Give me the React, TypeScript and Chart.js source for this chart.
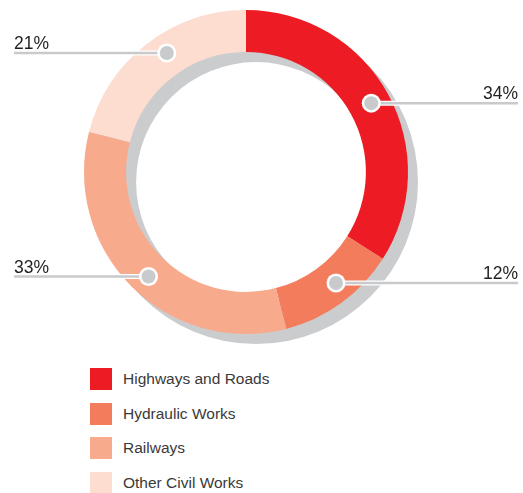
import React, { useEffect, useRef } from "react";
import { Chart, registerables } from "chart.js";

Chart.register(...registerables);

const categories = ["Highways and Roads", "Hydraulic Works", "Railways", "Other Civil Works"];
const values = [34, 12, 33, 21];
const percentLabels = ["34%", "12%", "33%", "21%"];
const colors = ["#ED1C24", "#F37C5D", "#F8AA8C", "#FCDDD0"];
// where along each slice the callout marker sits (0 = slice start, 1 = slice end)
const markerFractions = [0.5, 0.43, 0.483, 0.555];

const SHADOW = "#CBCCCE";
const LINE = "#C9CACC";
const FONT = "'Liberation Sans', Arial, Helvetica, sans-serif";

const shadowPlugin = {
  id: "ringShadow",
  beforeDatasetsDraw(chart: any) {
    const meta = chart.getDatasetMeta(0);
    const arc = meta.data[0];
    if (!arc) return;
    const { x, y, innerRadius, outerRadius } = arc.getProps(["x", "y", "innerRadius", "outerRadius"], true);
    const ctx = chart.ctx;
    ctx.save();
    ctx.fillStyle = SHADOW;
    ctx.beginPath();
    ctx.arc(x + 10, y + 10, outerRadius, 0, Math.PI * 2);
    ctx.arc(x + 10, y + 10, innerRadius, 0, Math.PI * 2, true);
    ctx.fill("evenodd");
    ctx.restore();
  },
};

const calloutPlugin = {
  id: "callouts",
  afterDatasetsDraw(chart: any) {
    const meta = chart.getDatasetMeta(0);
    const ctx = chart.ctx;
    meta.data.forEach((arc: any, i: number) => {
      const { x: cx, y: cy, startAngle, endAngle, innerRadius, outerRadius } = arc.getProps(
        ["x", "y", "startAngle", "endAngle", "innerRadius", "outerRadius"],
        true
      );
      const a = startAngle + markerFractions[i] * (endAngle - startAngle);
      const r = (innerRadius + outerRadius) / 2 + 2;
      const p = { x: cx + Math.cos(a) * r, y: cy + Math.sin(a) * r };
      const right = p.x > cx;
      const endX = right ? 518 : 14;
      ctx.save();
      ctx.lineCap = "butt";
      ctx.strokeStyle = "#FFFFFF";
      ctx.lineWidth = 5;
      ctx.beginPath();
      ctx.moveTo(p.x, p.y);
      ctx.lineTo(endX, p.y);
      ctx.stroke();
      ctx.strokeStyle = LINE;
      ctx.lineWidth = 2.5;
      ctx.beginPath();
      ctx.moveTo(p.x, p.y);
      ctx.lineTo(endX, p.y);
      ctx.stroke();
      ctx.fillStyle = "#FFFFFF";
      ctx.beginPath();
      ctx.arc(p.x, p.y, 9.5, 0, Math.PI * 2);
      ctx.fill();
      ctx.fillStyle = LINE;
      ctx.beginPath();
      ctx.arc(p.x, p.y, 7, 0, Math.PI * 2);
      ctx.fill();
      ctx.fillStyle = "#231F20";
      ctx.font = `17.5px ${FONT}`;
      ctx.textBaseline = "alphabetic";
      ctx.textAlign = right ? "right" : "left";
      ctx.fillText(percentLabels[i], endX, p.y - 4);
      ctx.restore();
    });
  },
};

export default function App() {
  const ref = useRef<HTMLCanvasElement | null>(null);

  useEffect(() => {
    if (!ref.current) return;
    const chart = new Chart(ref.current, {
      type: "doughnut",
      data: {
        labels: categories,
        datasets: [
          {
            data: values,
            backgroundColor: colors,
            borderWidth: 0,
            hoverOffset: 0,
          },
        ],
      },
      options: {
        responsive: false,
        animation: false,
        cutout: "74%",
        layout: { padding: { top: 10, bottom: 16, left: 84, right: 115 } },
        plugins: {
          legend: { display: false },
          tooltip: { enabled: false },
        },
        events: [],
      },
      plugins: [shadowPlugin, calloutPlugin],
    });
    return () => chart.destroy();
  }, []);

  return (
    <div style={{ position: "absolute", left: 0, top: 0, width: 523, height: 493, background: "#fff", overflow: "hidden" }}>
      <canvas ref={ref} width={523} height={350} style={{ display: "block", position: "absolute", left: 0, top: 0 }} />
      {categories.map((c, i) => (
        <div
          key={c}
          style={{
            position: "absolute",
            left: 90,
            top: 368 + i * 34.7,
            height: 22,
            display: "flex",
            alignItems: "center",
            fontFamily: FONT,
            fontSize: 15.5,
            color: "#3A3A3A",
            whiteSpace: "nowrap",
          }}
        >
          <span style={{ display: "inline-block", width: 22, height: 22, background: colors[i], marginRight: 11 }} />
          <span>{c}</span>
        </div>
      ))}
    </div>
  );
}
